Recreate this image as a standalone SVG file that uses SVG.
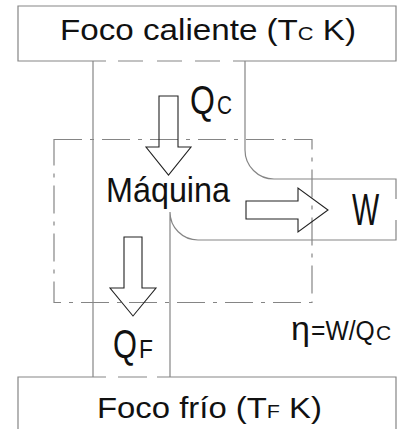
<svg xmlns="http://www.w3.org/2000/svg" width="405" height="429" viewBox="0 0 405 429">
<style>
.ln{fill:none;stroke:#858585;stroke-width:1.2}
.dd{fill:none;stroke:#858585;stroke-width:1.2;stroke-dasharray:28 8 4 8}
.ar{fill:none;stroke:#222;stroke-width:1.1;stroke-linejoin:miter}
.t{font-family:"Liberation Sans",Arial,sans-serif;fill:#111}
</style>
<rect width="405" height="429" fill="#fff"/>
<g id="connectors">
<path class="ln" d="M93,61 V377"/>
<path class="ln" d="M245,61 V150 A29,29 0 0 0 274,179 H396 V199 M396,220 V240 H198 A28,28 0 0 1 170,212 V377"/>
</g>
<g id="hot">
<path class="ln" d="M106,61 H18 V6 H396 V61 H233 M220,61 H195 M182,61 H157 M143,61 H118"/>
<text class="t" x="60" y="40" font-size="29" textLength="296" lengthAdjust="spacingAndGlyphs">Foco caliente (T<tspan font-size="19">C</tspan> K)</text>
</g>
<g id="cold">
<path class="ln" d="M106,377 H18 V440 M396,440 V377 H157 M147,377 H118"/>
<text class="t" x="97" y="418" font-size="29" textLength="225" lengthAdjust="spacingAndGlyphs">Foco frío (T<tspan font-size="19">F</tspan> K)</text>
</g>
<g id="engine">
<rect class="dd" x="54" y="139.5" width="258" height="163"/>
<text class="t" x="106" y="202" font-size="35" textLength="124" lengthAdjust="spacingAndGlyphs">Máquina</text>
</g>
<g id="qc">
<path class="ar" d="M159,96 H178 V147 H191 L168.5,175 L146,147 H159 Z"/>
<text class="t" transform="translate(190,114) scale(0.78,1)" font-size="41">Q</text>
<text class="t" transform="translate(217,114) scale(0.8,1)" font-size="26">C</text>
</g>
<g id="work">
<path class="ar" d="M246,201 H298 V188 L328,210 L298,232 V219 H246 Z"/>
<text class="t" transform="translate(352,225) scale(0.64,1)" font-size="45">W</text>
</g>
<g id="qf">
<path class="ar" d="M124,237 H142 V288 H156 L133,316 L110,288 H124 Z"/>
<text class="t" transform="translate(113,358) scale(0.77,1)" font-size="40">Q</text>
<text class="t" transform="translate(139,358) scale(0.88,1)" font-size="26">F</text>
</g>
<g id="efficiency">
<text class="t" x="291" y="340" font-size="34">η</text>
<text class="t" transform="translate(311,340) scale(0.88,1)" font-size="28">=W/Q</text>
<text class="t" x="376" y="340" font-size="21">C</text>
</g>
</svg>
